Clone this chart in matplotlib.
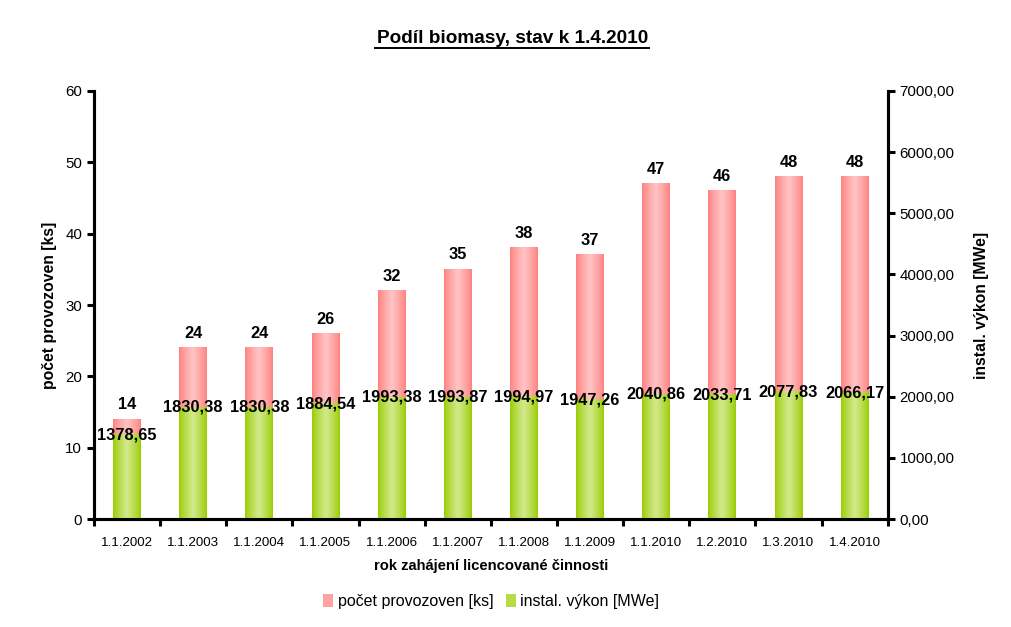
import numpy as np
import matplotlib
matplotlib.use("Agg")
import matplotlib.pyplot as plt
from matplotlib.patches import Patch
from matplotlib.ticker import FuncFormatter, MultipleLocator, FixedLocator

plt.rcParams['font.family'] = ['Liberation Sans', 'DejaVu Sans']

# data
dates = ['1.1.2002', '1.1.2003', '1.1.2004', '1.1.2005', '1.1.2006', '1.1.2007',
         '1.1.2008', '1.1.2009', '1.1.2010', '1.2.2010', '1.3.2010', '1.4.2010']
counts = [14, 24, 24, 26, 32, 35, 38, 37, 47, 46, 48, 48]
power = [1378.65, 1830.38, 1830.38, 1884.54, 1993.38, 1993.87,
         1994.97, 1947.26, 2040.86, 2033.71, 2077.83, 2066.17]

pink_edge = np.array([255, 128, 128]) / 255
pink_mid = np.array([255, 196, 196]) / 255
green_edge = np.array([153, 204, 0]) / 255
green_mid = np.array([210, 234, 140]) / 255


def gradient(edge, mid, n=64):
    t = np.linspace(0, 1, n)
    f = np.clip(1 - np.abs(t - 0.5) / 0.5, 0, 1) ** 0.8
    return (edge[None, :] * (1 - f[:, None]) + mid[None, :] * f[:, None])[None, :, :]


def gradient_bars(ax, x, heights, width, edge, mid):
    img = gradient(edge, mid)
    bars = ax.bar(x, heights, width, color='none', edgecolor='none')
    for b in bars:
        x0, w, h = b.get_x(), b.get_width(), b.get_height()
        ax.imshow(img, extent=(x0, x0 + w, 0, h), aspect='auto',
                  interpolation='bilinear', zorder=2)
    return bars


fig = plt.figure(figsize=(10.11, 6.27), dpi=100)
ax = fig.add_axes([0.093, 0.172, 0.785, 0.683])
ax2 = ax.twinx()

x = np.arange(len(dates))
w = 0.42

gradient_bars(ax, x, counts, w, pink_edge, pink_mid)
gradient_bars(ax2, x, power, w, green_edge, green_mid)

ax.set_xlim(-0.5, len(dates) - 0.5)
ax.set_ylim(0, 60)
ax2.set_ylim(0, 7000)

for xi, c in zip(x, counts):
    ax.annotate(str(c), (xi, c), xytext=(0, 5), textcoords='offset points',
                ha='center', va='bottom', fontsize=11.8, fontweight='bold')
for xi, p in zip(x, power):
    ax2.text(xi, p, f"{p:.2f}".replace('.', ','), ha='center', va='center',
             fontsize=11.8, fontweight='bold', zorder=5)

ax.yaxis.set_major_locator(MultipleLocator(10))
ax2.yaxis.set_major_locator(MultipleLocator(1000))
ax2.yaxis.set_major_formatter(FuncFormatter(lambda v, p: f"{v:.2f}".replace('.', ',')))

ax.set_xticks(x)
ax.set_xticklabels(dates)
ax.xaxis.set_minor_locator(FixedLocator(np.arange(-0.5, len(dates), 1)))
ax.tick_params(axis='x', which='major', length=0, pad=13, labelsize=9.6)
ax.tick_params(axis='x', which='minor', length=5, width=2.2, direction='out')
ax.tick_params(axis='y', length=5, width=2.2, direction='out', labelsize=10.8)
ax2.tick_params(axis='y', length=5, width=2.2, direction='out', labelsize=10.8)

for a in (ax, ax2):
    a.spines['top'].set_visible(False)
    for s in ('left', 'right', 'bottom'):
        a.spines[s].set_linewidth(2.2)

ax.set_ylabel('počet provozoven [ks]', fontsize=11.3, fontweight='bold', labelpad=6)
ax2.set_ylabel('instal. výkon [MWe]', fontsize=11.3, fontweight='bold', labelpad=14)
ax.set_xlabel('rok zahájení licencované činnosti', fontsize=10.6, fontweight='bold', labelpad=7)

fig.text(0.507, 0.939, 'Podíl biomasy, stav k 1.4.2010', ha='center', va='center',
         fontsize=13.7, fontweight='bold')
fig.add_artist(plt.Line2D([0.371, 0.642], [0.923, 0.923], color='black', lw=1.4))

handles = [Patch(facecolor=(pink_edge + pink_mid) / 2, edgecolor='none'),
           Patch(facecolor=(green_edge + green_mid) / 2, edgecolor='none')]
fig.legend(handles, ['počet provozoven [ks]', 'instal. výkon [MWe]'],
           loc='center', bbox_to_anchor=(0.486, 0.041), ncol=2, frameon=False,
           fontsize=11.5, handlelength=0.6, handleheight=0.9, handletextpad=0.3,
           columnspacing=0.8)

fig.savefig('out.png', dpi=100)
